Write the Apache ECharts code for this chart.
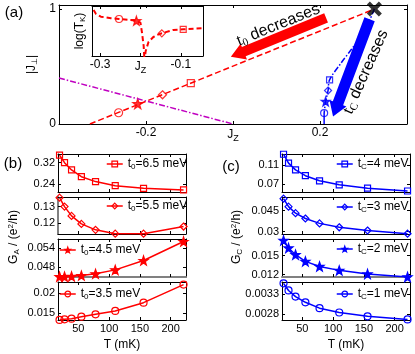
<!DOCTYPE html>
<html>
<head>
<meta charset="utf-8">
<script src="https://cdn.jsdelivr.net/npm/echarts@6/dist/echarts.min.js"></script>
<style>
html, body { margin: 0; padding: 0; background: #fff; }
#main { width: 415px; height: 354px; }
</style>
</head>
<body>
<div id="main"></div>
<script>
// ---- panel (a): flow in the (Jz, |Jperp|) plane ----
var redLineJz = [-0.329, 0.325];
var redLineJp = [0, 1.0];
var redMarkJz = [-0.263, -0.219, -0.162, -0.097];
var redMarkJp = [0.098, 0.176, 0.254, 0.356];
var magJz = [-0.4, 0];
var magJp = [0.4, 0];
var blueJz = [0.325, 0.302, 0.272, 0.249, 0.222, 0.2185, 0.213, 0.2095];
var blueJp = [1.0, 0.806, 0.648, 0.533, 0.384, 0.291, 0.196, 0.095];
var blueStemJz = [0.2095, 0.2095];
var blueStemJp = [0.095, 0];
var blueMarkJz = [0.2095, 0.213, 0.2185, 0.222];
var blueMarkJp = [0.095, 0.196, 0.291, 0.384];
var fixJz = [0.325];
var fixJp = [1.0];
var aXTicks = [-0.2, 0, 0.2];
var aXLabels = ['-0.2', 'JZ', '0.2'];
var aYTicks = [0, 1];
var aYLabels = ['0', '1'];

// inset: log(T_K) against Jz
var insetJz = [-0.316, -0.31, -0.298, -0.273, -0.253, -0.21, -0.2, -0.196, -0.192, -0.19, -0.187, -0.18, -0.168, -0.159, -0.147, -0.119, -0.094, -0.046];
var insetLogT = [0.92, 0.84, 0.786, 0.754, 0.74, 0.706, 0.666, 0.46, 0.2, -0.1, 0.1, 0.28, 0.38, 0.42, 0.454, 0.52, 0.534, 0.554];
var insetMarkJz = [-0.253, -0.21, -0.147, -0.094];
var insetMarkLogT = [0.74, 0.706, 0.454, 0.534];
var insetXTicks = [-0.3, -0.2, -0.1];
var insetXLabels = ['-0.3', 'JZ', '-0.1'];

// ---- panels (b), (c): conductance against temperature ----
var T = [19.5, 27.6, 39, 55, 78, 110, 156, 221];
var tTicks = [50, 100, 150, 200];
var tLabels = ['50', '100', '150', '200'];
var gA65 = [0.348, 0.32, 0.293, 0.268, 0.25, 0.235, 0.225, 0.219];
var gA55 = [0.1354, 0.13, 0.1244, 0.1196, 0.116, 0.1137, 0.1137, 0.118];
var gA45 = [0.0450, 0.0450, 0.0451, 0.04535, 0.0459, 0.04715, 0.0501, 0.0561];
var gA35 = [0.01336, 0.0135, 0.01365, 0.01415, 0.01475, 0.01558, 0.01765, 0.02215];
var gC4 = [0.134, 0.115, 0.1006, 0.0881, 0.0772, 0.0685, 0.0613, 0.0553];
var gC3 = [0.0535, 0.0478, 0.0431, 0.0393, 0.0358, 0.033, 0.0307, 0.0284];
var gC2 = [0.01742, 0.01622, 0.01516, 0.0141, 0.0133, 0.01268, 0.01211, 0.01164];
var gC1 = [0.003558, 0.003383, 0.003233, 0.003093, 0.00295, 0.002843, 0.00275, 0.002675];
var bNames = ['t0=6.5 meV', 't0=5.5 meV', 't0=4.5 meV', 't0=3.5 meV'];
var cNames = ['tC=4 meV', 'tC=3 meV', 'tC=2 meV', 'tC=1 meV'];
var bYTicks = [[0.24, 0.32], [0.12, 0.13], [0.048, 0.054], [0.015, 0.02]];
var bYLabels = [['0.24', '0.32'], ['0.12', '0.13'], ['0.048', '0.054'], ['0.015', '0.02']];
var cYTicks = [[0.07, 0.11], [0.03, 0.045], [0.012, 0.015], [0.0028, 0.0033]];
var cYLabels = [['0.07', '0.11'], ['0.03', '0.045'], ['0.012', '0.015'], ['0.0028', '0.0033']];

var RED = '#ff0000', BLUE = '#0000ff', MAG = '#c000c0';
var FONT = '"Liberation Sans", Arial, sans-serif';

function starPath() {
    var pts = [];
    for (var i = 0; i < 10; i++) {
        var r = i % 2 ? 0.4 : 1;
        var a = Math.PI / 2 + i * Math.PI / 5;
        pts.push((50 + 50 * r * Math.cos(a)).toFixed(2) + ',' + (50 - 50 * r * Math.sin(a)).toFixed(2));
    }
    return 'path://M' + pts.join('L') + 'Z';
}
var STAR = starPath();
var XMARK = 'path://M0,2L2,0L5,3L8,0L10,2L7,5L10,8L8,10L5,7L2,10L0,8L3,5Z';
// circle, star, diamond, square
var SYMS = ['circle', STAR, 'diamond', 'rect'];

function zip(xs, ys) {
    return xs.map(function (x, i) { return [x, ys[i]]; });
}
function markStyle(color, filled) {
    return { color: filled ? color : 'rgba(255,255,255,0)', borderColor: color, borderWidth: 1.2 };
}
var rich = {
    n: { fontSize: 12, fontFamily: FONT, color: '#000' },
    s: { fontSize: 8, fontFamily: FONT, color: '#000', padding: [6, 0, 0, 0] },
    p: { fontSize: 8, fontFamily: FONT, color: '#000', padding: [0, 0, 6, 0] }
};
function richJz(size) {
    return {
        j: { fontSize: size, fontFamily: FONT, color: '#000' },
        z: { fontSize: size - 3, fontFamily: FONT, color: '#000', padding: [7, 0, 0, 0] }
    };
}

var grids = [], xAxes = [], yAxes = [], series = [], legends = [];

function tickFmt(ticks, labels) {
    return function (v) {
        for (var i = 0; i < ticks.length; i++) {
            if (Math.abs(ticks[i] - v) < 1e-9) {
                return labels[i] === 'JZ' ? '{j|J}{z|Z}' : labels[i];
            }
        }
        return '';
    };
}

// one box with ticks on all four sides
function addGrid(g, o) {
    var gi = grids.length;
    grids.push(g);
    var line = function (c, w) { return { show: true, onZero: false, lineStyle: { color: c || '#000', width: w || 1 } }; };
    xAxes.push({
        gridIndex: gi, type: 'value', position: 'bottom', min: o.xr[0], max: o.xr[1],
        axisLine: line(o.bottomColor, o.bottomWidth),
        axisTick: { show: true, inside: true, length: 3, customValues: o.xt, lineStyle: { color: '#000' } },
        axisLabel: o.xl ? { show: true, customValues: o.xt, formatter: tickFmt(o.xt, o.xl), color: '#000', fontSize: o.fs, fontFamily: FONT, margin: 3, rich: richJz(o.fs) } : { show: false },
        splitLine: { show: false },
        name: o.xName || '', nameLocation: 'middle', nameGap: 19,
        nameTextStyle: { fontSize: 12, fontFamily: FONT, color: '#000' }
    });
    xAxes.push({
        gridIndex: gi, type: 'value', position: 'top', min: o.xr[0], max: o.xr[1],
        axisLine: line(),
        axisTick: { show: true, inside: true, length: 3, customValues: o.xt, lineStyle: { color: '#000' } },
        axisLabel: { show: false }, splitLine: { show: false }
    });
    yAxes.push({
        gridIndex: gi, type: 'value', position: 'left', min: o.yr[0], max: o.yr[1],
        axisLine: line(o.leftColor, o.leftWidth),
        axisTick: { show: !!o.yt, inside: true, length: 3, customValues: o.yt || [], lineStyle: { color: '#000' } },
        axisLabel: o.yl ? { show: true, customValues: o.yt, formatter: tickFmt(o.yt, o.yl), color: '#000', fontSize: o.fs, fontFamily: FONT, margin: 3 } : { show: false },
        splitLine: { show: false },
        name: o.yName || '', nameLocation: 'middle', nameGap: o.yNameGap || 10,
        nameTextStyle: { fontSize: 12, fontFamily: FONT, color: '#000', rich: rich }
    });
    yAxes.push({
        gridIndex: gi, type: 'value', position: 'right', min: o.yr[0], max: o.yr[1],
        axisLine: line(),
        axisTick: { show: !!o.yt, inside: true, length: 3, customValues: o.yt || [], lineStyle: { color: '#000' } },
        axisLabel: { show: false }, splitLine: { show: false }
    });
    return 2 * gi;
}

// panel (a)
var ga = addGrid({ left: 59, top: 5, width: 348, height: 119 }, {
    xr: [-0.4, 0.4], yr: [0, 1.035], xt: aXTicks, xl: aXLabels, yt: aYTicks, yl: aYLabels, fs: 12,
    yName: '{n||J}{s|⊥}{n||}', yNameGap: 12
});
var gi0 = addGrid({ left: 92, top: 6, width: 111, height: 50 }, {
    xr: [-0.32, -0.045], yr: [0, 1], xt: insetXTicks, xl: insetXLabels, fs: 12,
    yName: '{n|log(T}{s|K}{n|)}', yNameGap: 5
});

series.push({
    type: 'line', xAxisIndex: ga, yAxisIndex: ga, data: zip(magJz, magJp), symbol: 'none',
    lineStyle: { color: MAG, width: 1.5, type: [6, 2, 1.5, 2] }, silent: true
});
series.push({
    type: 'line', xAxisIndex: ga, yAxisIndex: ga, data: zip(redLineJz, redLineJp), symbol: 'none',
    lineStyle: { color: RED, width: 1.5, type: [6, 3] }, silent: true
});
series.push({
    type: 'scatter', xAxisIndex: ga, yAxisIndex: ga,
    data: redMarkJz.map(function (x, i) {
        return { value: [x, redMarkJp[i]], symbol: SYMS[i], symbolSize: [8, 10, 8, 7][i], itemStyle: markStyle(RED, i === 1) };
    })
});
series.push({
    type: 'line', xAxisIndex: ga, yAxisIndex: ga, data: zip(blueJz, blueJp), symbol: 'none', smooth: 0.3,
    lineStyle: { color: BLUE, width: 1.5, type: [6, 2, 1.5, 2] }
});
series.push({
    type: 'line', xAxisIndex: ga, yAxisIndex: ga, data: zip(blueStemJz, blueStemJp), symbol: 'none',
    lineStyle: { color: BLUE, width: 1.5 }
});
series.push({
    type: 'scatter', xAxisIndex: ga, yAxisIndex: ga,
    data: blueMarkJz.map(function (x, i) {
        return { value: [x, blueMarkJp[i]], symbol: SYMS[i], symbolSize: [7, 9, 7, 6][i], itemStyle: markStyle(BLUE, i === 1) };
    })
});
series.push({
    type: 'scatter', xAxisIndex: ga, yAxisIndex: ga, data: zip(fixJz, fixJp),
    symbol: XMARK, symbolSize: 15, itemStyle: { color: '#000' }, z: 5
});
series.push({
    type: 'line', xAxisIndex: gi0, yAxisIndex: gi0, data: zip(insetJz, insetLogT), symbol: 'none',
    lineStyle: { color: RED, width: 2, type: [5, 3] }
});
series.push({
    type: 'scatter', xAxisIndex: gi0, yAxisIndex: gi0,
    data: insetMarkJz.map(function (x, i) {
        return { value: [x, insetMarkLogT[i]], symbol: SYMS[i], symbolSize: [7, 9, 7, 6][i], itemStyle: markStyle(RED, i === 1) };
    })
});

// panels (b), (c)
var tops = [154, 197, 239, 282];
var hts = [38, 37, 38, 38];
var bData = [gA65, gA55, gA45, gA35];
var cData = [gC4, gC3, gC2, gC1];
var bYR = [[0.2115, 0.352], [0.1135, 0.1358], [0.0449, 0.0569], [0.01333, 0.0228]];
var cYR = [[0.0532, 0.1345], [0.0282, 0.0547], [0.01163, 0.01764], [0.00266, 0.00359]];
var subSym = [3, 2, 1, 0];
var subSize = [6, 7, 9, 7];
var bLegPos = [[106, 158], [106, 200], [59, 244], [59, 288]];
var cLegPos = [[336, 158], [336, 201], [336, 243], [336, 288]];

function legFmt(name) {
    return '{n|' + name[0] + '}{s|' + name[1] + '}{n|' + name.slice(2) + '}';
}

function addPanel(left, data, yr, yt, yl, names, color, legPos) {
    for (var k = 0; k < 4; k++) {
        var o = {
            xr: [17, 225], yr: yr[k], xt: tTicks, yt: yt[k], yl: yl[k], fs: 11
        };
        if (k === 3) { o.xl = tLabels; o.xName = 'T (mK)'; }
        if (color === RED && k === 1) { o.leftColor = '#808080'; o.leftWidth = 2; }
        if (k === 2) { o.bottomColor = '#808080'; o.bottomWidth = 2; }
        var ai = addGrid({ left: left, top: tops[k], width: 128, height: hts[k] }, o);
        var ms = markStyle(color, subSym[k] === 1);
        series.push({
            name: names[k], type: 'line', xAxisIndex: ai, yAxisIndex: ai, data: zip(T, data[k]),
            symbol: SYMS[subSym[k]], symbolSize: subSize[k], showSymbol: true,
            lineStyle: { color: color, width: 1.5 },
            itemStyle: ms
        });
        legends.push({
            data: [{ name: names[k], itemStyle: ms, lineStyle: { color: color, width: 1.5 } }],
            left: legPos[k][0], top: legPos[k][1], padding: 0,
            itemWidth: 16, itemHeight: 7, formatter: legFmt,
            textStyle: { fontSize: 12, fontFamily: FONT, color: '#000', rich: rich }
        });
    }
}
addPanel(58, bData, bYR, bYTicks, bYLabels, bNames, RED, bLegPos);
addPanel(282, cData, cYR, cYTicks, cYLabels, cNames, BLUE, cLegPos);

var chart = echarts.init(document.getElementById('main'));
chart.setOption({
    animation: false,
    grid: grids,
    xAxis: xAxes,
    yAxis: yAxes,
    legend: legends,
    series: series
});

// annotations (positions in data units of panel (a))
var redArrow = [[0.214, 0.922], [-0.005, 0.584]];
var blueArrow = [[0.314, 0.911], [0.23, 0.066]];
var redTextAt = [0.104, 0.861];
var blueTextAt = [0.305, 0.454];

function px(v) { return chart.convertToPixel({ seriesIndex: 0 }, v); }
function arrowPts(a, b, sw, hw, hl) {
    var p0 = px(a), p1 = px(b);
    var dx = p1[0] - p0[0], dy = p1[1] - p0[1];
    var L = Math.sqrt(dx * dx + dy * dy);
    var ux = dx / L, uy = dy / L, nx = -uy, ny = ux;
    var bx = p1[0] - ux * hl, by = p1[1] - uy * hl;
    return [
        [p0[0] + nx * sw / 2, p0[1] + ny * sw / 2],
        [bx + nx * sw / 2, by + ny * sw / 2],
        [bx + nx * hw / 2, by + ny * hw / 2],
        [p1[0], p1[1]],
        [bx - nx * hw / 2, by - ny * hw / 2],
        [bx - nx * sw / 2, by - ny * sw / 2],
        [p0[0] - nx * sw / 2, p0[1] - ny * sw / 2]
    ];
}
var bigRich = {
    t: { fontSize: 17, fontFamily: '"Liberation Serif", serif', color: '#000' },
    s: { fontSize: 11, fontFamily: '"Liberation Serif", serif', color: '#000', padding: [8, 0, 0, 0] },
    n: { fontSize: 16, fontFamily: FONT, color: '#000' }
};
function label(text, x, y, rot, size, extraRich) {
    return {
        type: 'text', x: x, y: y, rotation: rot || 0, z: 100,
        style: {
            text: text, fill: '#000', font: size + 'px ' + FONT,
            align: 'center', verticalAlign: 'middle', rich: extraRich || rich
        }
    };
}
var rt = px(redTextAt), bt = px(blueTextAt);
var deg = Math.PI / 180;
chart.setOption({
    graphic: [
        { type: 'polygon', shape: { points: arrowPts(redArrow[0], redArrow[1], 10, 17, 14) }, style: { fill: RED }, z: 50 },
        { type: 'polygon', shape: { points: arrowPts(blueArrow[0], blueArrow[1], 11, 18, 14) }, style: { fill: BLUE }, z: 50 },
        label('{t|t}{s|0}{n| decreases}', rt[0], rt[1], 22 * deg, 16, bigRich),
        label('{t|t}{s|C}{n| decreases}', bt[0], bt[1], 66 * deg, 16, bigRich),
        label('(a)', 14, 13, 0, 15),
        label('(b)', 13, 164, 0, 15),
        label('(c)', 231, 167, 0, 15),
        label('{n|G}{s|A}{n| / (e}{p|2}{n|/h)}', 14, 237, 90 * deg, 12),
        label('{n|G}{s|C}{n| / (e}{p|2}{n|/h)}', 237, 237, 90 * deg, 12)
    ]
});
</script>
</body>
</html>
